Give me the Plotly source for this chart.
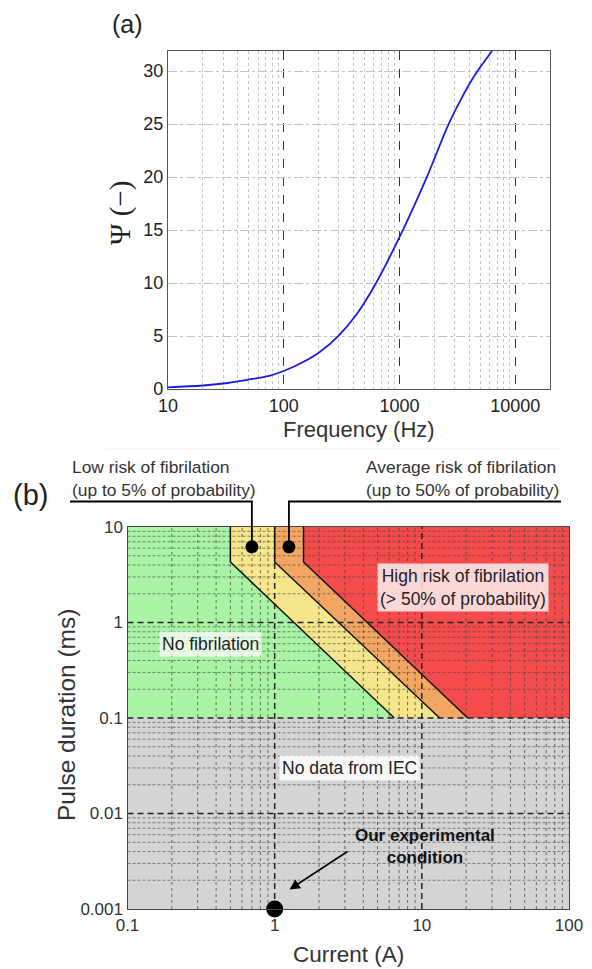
import numpy as np
import plotly.graph_objects as go

# ---------------- data ----------------
FREQ_HZ = [10, 20, 30, 50, 75, 100, 150, 205, 296, 430, 628, 1070, 1725, 2660, 3500, 4530, 6320]
PSI = [0.15, 0.33, 0.52, 0.9, 1.25, 1.7, 2.6, 3.5, 5.0, 7.1, 10.0, 15.0, 20.0, 25.0, 27.6, 29.7, 31.9]

FREQ_TICKS = [10, 100, 1000, 10000]
PSI_TICKS = [0, 5, 10, 15, 20, 25, 30]

BOUND_DUR_MS = [10, 4.3, 0.1]
LOW_RISK_I = [0.5, 0.5, 6.5]
AVG_RISK_I = [1.0, 1.0, 13.2]
HIGH_RISK_I = [1.57, 1.57, 20.5]
NO_DATA_DUR_MS = [0.001, 0.1]

CURRENT_TICKS = [0.1, 1, 10, 100]
CURRENT_LABELS = ["0.1", "1", "10", "100"]
DURATION_TICKS = [0.001, 0.01, 0.1, 1, 10]
DURATION_LABELS = ["0.001", "0.01", "0.1", "1", "10"]

ZONE_DOT_I = [0.7, 1.25]
ZONE_DOT_DUR = [6.2, 6.2]
EXP_I = [1.0]
EXP_DUR = [0.001]

W, H = 592, 969
A_X = (168.0, 550.0); A_Y = (51.0, 389.0)
B_X = (127.5, 569.0); B_Y = (527.0, 909.0)
B_XR = (-1, 2); B_YR = (-3, 1)


def px_dom(a, b, total):
    return [a / total, b / total]


def py_dom(top, bottom):
    return [1 - bottom / H, 1 - top / H]


def b_paper(cur, dur):
    fx = (np.log10(cur) - B_XR[0]) / (B_XR[1] - B_XR[0])
    fy = (np.log10(dur) - B_YR[0]) / (B_YR[1] - B_YR[0])
    px = B_X[0] + fx * (B_X[1] - B_X[0])
    py = B_Y[1] - fy * (B_Y[1] - B_Y[0])
    return px / W, 1 - py / H


FONT = "Liberation Sans, Arial, sans-serif"
fig = go.Figure()

fig.add_trace(go.Scatter(
    x=FREQ_HZ, y=PSI, mode="lines",
    line=dict(color="#1c1ce0", width=1.8, shape="spline", smoothing=1.0),
    xaxis="x", yaxis="y", showlegend=False, hoverinfo="skip"))

zones = [
    ([0.1] + LOW_RISK_I + [0.1], [10] + BOUND_DUR_MS + [0.1], "#a9f4a4"),
    (LOW_RISK_I + AVG_RISK_I[::-1], BOUND_DUR_MS + BOUND_DUR_MS[::-1], "#f5e68c"),
    (AVG_RISK_I + HIGH_RISK_I[::-1], BOUND_DUR_MS + BOUND_DUR_MS[::-1], "#f3a562"),
    (HIGH_RISK_I + [100, 100], BOUND_DUR_MS + [0.1, 10], "#f54b4a"),
    ([0.1, 100, 100, 0.1], [NO_DATA_DUR_MS[0], NO_DATA_DUR_MS[0], NO_DATA_DUR_MS[1], NO_DATA_DUR_MS[1]], "#d4d4d4"),
]
for xs, ys, col in zones:
    fig.add_trace(go.Scatter(x=xs, y=ys, mode="lines", fill="toself", fillcolor=col,
                             line=dict(width=0, color=col), xaxis="x2", yaxis="y2",
                             showlegend=False, hoverinfo="skip"))


def vlines(vals, lo, hi):
    xs, ys = [], []
    for v in vals:
        xs += [v, v, None]; ys += [lo, hi, None]
    return xs, ys


def hlines(vals, lo, hi):
    xs, ys = [], []
    for v in vals:
        xs += [lo, hi, None]; ys += [v, v, None]
    return xs, ys


cur_minor = [m * d for d in CURRENT_TICKS[:-1] for m in range(2, 10)]
dur_minor = [m * d for d in DURATION_TICKS[:-1] for m in range(2, 10)]
cur_major = CURRENT_TICKS[1:-1]
dur_major = DURATION_TICKS[1:-1]

gx, gy = vlines(cur_minor, DURATION_TICKS[0], DURATION_TICKS[-1])
fig.add_trace(go.Scatter(x=gx, y=gy, mode="lines", line=dict(color="rgba(70,70,70,0.75)", width=1, dash="dot"),
                         xaxis="x2", yaxis="y2", showlegend=False, hoverinfo="skip"))
gx, gy = hlines(dur_minor, CURRENT_TICKS[0], CURRENT_TICKS[-1])
fig.add_trace(go.Scatter(x=gx, y=gy, mode="lines", line=dict(color="rgba(70,70,70,0.7)", width=0.9, dash="3px,2px"),
                         xaxis="x2", yaxis="y2", showlegend=False, hoverinfo="skip"))
gx, gy = vlines(cur_major, DURATION_TICKS[0], DURATION_TICKS[-1])
fig.add_trace(go.Scatter(x=gx, y=gy, mode="lines", line=dict(color="#222", width=1.5, dash="6px,4px"),
                         xaxis="x2", yaxis="y2", showlegend=False, hoverinfo="skip"))
gx, gy = hlines(dur_major, CURRENT_TICKS[0], CURRENT_TICKS[-1])
fig.add_trace(go.Scatter(x=gx, y=gy, mode="lines", line=dict(color="#222", width=1.5, dash="6px,4px"),
                         xaxis="x2", yaxis="y2", showlegend=False, hoverinfo="skip"))

for bx in (LOW_RISK_I, AVG_RISK_I, HIGH_RISK_I):
    fig.add_trace(go.Scatter(x=bx, y=BOUND_DUR_MS, mode="lines", line=dict(color="#111", width=1.5),
                             xaxis="x2", yaxis="y2", showlegend=False, hoverinfo="skip"))

fig.add_trace(go.Scatter(x=ZONE_DOT_I, y=ZONE_DOT_DUR, mode="markers",
                         marker=dict(color="#000", size=13), xaxis="x2", yaxis="y2",
                         showlegend=False, hoverinfo="skip", cliponaxis=False))
fig.add_trace(go.Scatter(x=EXP_I, y=EXP_DUR, mode="markers",
                         marker=dict(color="#000", size=17), xaxis="x2", yaxis="y2",
                         showlegend=False, hoverinfo="skip", cliponaxis=False))

common = dict(showline=True, mirror=True, ticks="", zeroline=False, automargin=False)
fig.update_layout(
    template="none",
    width=W, height=H, autosize=False,
    margin=dict(l=0, r=0, t=0, b=0, pad=0, autoexpand=False),
    paper_bgcolor="white", plot_bgcolor="white", showlegend=False,
    xaxis=dict(domain=px_dom(*A_X, W), anchor="y", type="log", range=[1, np.log10(20000)],
               tickvals=FREQ_TICKS, ticktext=[str(v) for v in FREQ_TICKS],
               showgrid=True, gridcolor="#333", griddash="dash", gridwidth=1.2,
               minor=dict(tickvals=[m * d for d in FREQ_TICKS for m in range(2, 10)],
                          showgrid=True, gridcolor="#c4c4c4", griddash="dot", gridwidth=1),
               linecolor="#555", linewidth=1.3, tickfont=dict(family=FONT, size=18, color="#222"), **common),
    yaxis=dict(domain=py_dom(*A_Y), anchor="x", range=[0, 31.9],
               tickvals=PSI_TICKS, ticktext=[str(v) for v in PSI_TICKS],
               showgrid=True, gridcolor="#c4c4c4", griddash="dashdot", gridwidth=1,
               linecolor="#555", linewidth=1.3, tickfont=dict(family=FONT, size=18, color="#222"), **common),
    xaxis2=dict(domain=px_dom(*B_X, W), anchor="y2", type="log", range=list(B_XR),
                tickvals=CURRENT_TICKS, ticktext=CURRENT_LABELS, showgrid=False,
                linecolor="#444", linewidth=1.3, tickfont=dict(family=FONT, size=17, color="#333"), **common),
    yaxis2=dict(domain=py_dom(*B_Y), anchor="x2", type="log", range=list(B_YR),
                tickvals=DURATION_TICKS, ticktext=DURATION_LABELS, showgrid=False,
                linecolor="#444", linewidth=1.3, tickfont=dict(family=FONT, size=17, color="#333"), **common),
)

ann = []


def paper_text(text, px, py, size, **kw):
    d = dict(text=text, x=px / W, y=1 - py / H, xref="paper", yref="paper", showarrow=False,
             xanchor="center", yanchor="middle",
             font=dict(family=kw.pop("family", FONT), size=size, color=kw.pop("color", "#222")))
    d.update(kw)
    ann.append(d)


paper_text("(a)", 127, 24, 25)
paper_text("Ψ (−)", 121, 213, 29, family="Liberation Serif, Times New Roman, serif", textangle=-90)
paper_text("Frequency (Hz)", 359, 430, 22, color="#333")
paper_text("(b)", 30, 495, 29)
paper_text("Low risk of fibrilation<br>(up to 5% of probability)", 70, 478, 17.4, xanchor="left", align="left", color="#333")
paper_text("Average risk of fibrilation<br>(up to 50% of probability)", 364, 478, 17.4, xanchor="left", align="left", color="#333")
paper_text("Pulse duration (ms)", 66, 715, 24.5, textangle=-90, color="#333")
paper_text("Current (A)", 348, 954, 22.5, color="#333")

REGION_LABELS = ["No fibrilation", "High risk of fibrilation<br>(> 50% of probability)", "No data from IEC"]
REGION_I = [0.367, 19.1, 3.24]
REGION_DUR = [0.6, 2.33, 0.0298]
REGION_BG = ["rgba(255,255,255,0.72)", "rgba(255,255,255,0.78)", "rgba(255,255,255,0.85)"]
for t, ci, di, bg in zip(REGION_LABELS, REGION_I, REGION_DUR, REGION_BG):
    ann.append(dict(text=t, x=np.log10(ci), y=np.log10(di), xref="x2", yref="y2", showarrow=False,
                    xanchor="center", yanchor="middle",
                    bgcolor=bg, borderpad=2, font=dict(family=FONT, size=17.5, color="#222")))

ann.append(dict(text="", x=np.log10(1.26), y=np.log10(0.0016), ax=np.log10(3.2), ay=np.log10(0.0041),
                xref="x2", yref="y2", axref="x2", ayref="y2", showarrow=True,
                arrowhead=2, arrowsize=1.3, arrowwidth=1.6, arrowcolor="#000"))
ann.append(dict(text="<b>Our experimental<br>condition</b>", x=np.log10(10.5), y=np.log10(0.0045),
                xref="x2", yref="y2", showarrow=False, xanchor="center", yanchor="middle",
                font=dict(family=FONT, size=17, color="#111")))

fig.update_layout(annotations=ann)

shapes = []
x0, y0 = b_paper(ZONE_DOT_I[0], ZONE_DOT_DUR[0])
ytop = 1 - 501.5 / H
shapes.append(dict(type="path", xref="paper", yref="paper",
                   path=f"M {x0},{y0} L {x0},{ytop} L {70 / W},{ytop}",
                   line=dict(color="#000", width=1.8)))
x1, y1 = b_paper(ZONE_DOT_I[1], ZONE_DOT_DUR[1])
shapes.append(dict(type="path", xref="paper", yref="paper",
                   path=f"M {x1},{y1} L {x1},{ytop} L {561 / W},{ytop}",
                   line=dict(color="#000", width=1.8)))
shapes.append(dict(type="line", xref="paper", yref="paper", x0=105 / W, x1=560 / W,
                   y0=1 - 449 / H, y1=1 - 449 / H, line=dict(color="#ececec", width=1)))
fig.update_layout(shapes=shapes)

fig.write_html("out.html", config={"displayModeBar": False},
               post_script="document.body.style.margin='0';document.body.style.overflow='hidden';")
